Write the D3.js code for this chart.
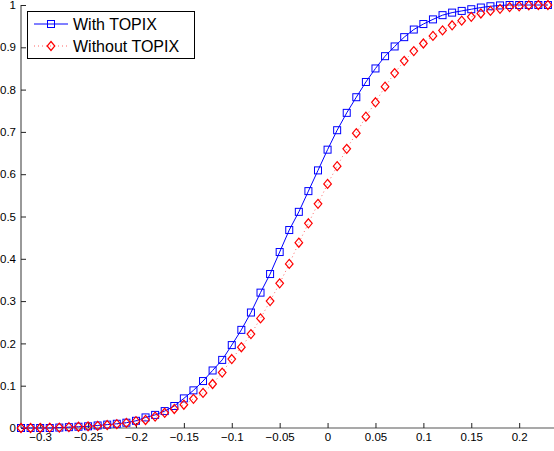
<!DOCTYPE html>
<html>
<head>
<meta charset="utf-8">
<script src="https://cdn.jsdelivr.net/npm/d3@7"></script>
<style>
  body { margin: 0; background: #fff; }
  svg { display: block; font-family: "Liberation Sans", Arial, sans-serif; }
</style>
</head>
<body>
<svg id="chart" width="554" height="451"></svg>
<script>
// x grid: -0.32 .. 0.23 step 0.01
const xs = d3.range(56).map(i => +(-0.32 + i * 0.01).toFixed(2));

const withTopix = [
  0.000, 0.000, 0.000, 0.000, 0.001, 0.002, 0.003, 0.004, 0.006, 0.008,
  0.010, 0.0125, 0.017, 0.025, 0.031, 0.040, 0.052, 0.070, 0.089, 0.111,
  0.136, 0.161, 0.196, 0.232, 0.273, 0.320, 0.364, 0.416, 0.468, 0.511,
  0.560, 0.609, 0.658, 0.704, 0.745, 0.782, 0.818, 0.850, 0.879, 0.902,
  0.924, 0.942, 0.955, 0.966, 0.976, 0.982, 0.986, 0.990, 0.994, 0.997,
  0.999, 1.000, 1.000, 1.000, 1.000, 1.000
];

const withoutTopix = [
  0.000, 0.000, 0.000, 0.001, 0.001, 0.002, 0.003, 0.004, 0.005, 0.007,
  0.009, 0.012, 0.016, 0.019, 0.027, 0.036, 0.045, 0.055, 0.069, 0.083,
  0.104, 0.131, 0.163, 0.191, 0.222, 0.259, 0.300, 0.342, 0.388, 0.438,
  0.484, 0.530, 0.577, 0.619, 0.660, 0.697, 0.736, 0.770, 0.807, 0.839,
  0.868, 0.891, 0.909, 0.927, 0.940, 0.952, 0.963, 0.972, 0.980, 0.986,
  0.991, 0.995, 0.997, 0.999, 1.000, 1.000
];

const xTicks = [-0.3, -0.25, -0.2, -0.15, -0.1, -0.05, 0, 0.05, 0.1, 0.15, 0.2];
const yTicks = [0, 0.1, 0.2, 0.3, 0.4, 0.5, 0.6, 0.7, 0.8, 0.9, 1];
const seriesNames = ["With TOPIX", "Without TOPIX"];

const svg = d3.select("#chart");
const x = d3.scaleLinear().domain([-0.32, 0.24]).range([21, 557.5]);
const y = d3.scaleLinear().domain([0, 1]).range([428, 5]);

// ---- axes ----
const fmt = d => String(d).replace("-", "\u2212");

const xAxis = svg.append("g")
  .attr("transform", "translate(0,428)")
  .call(d3.axisBottom(x).tickValues(xTicks).tickSize(-5).tickPadding(5).tickFormat(fmt));
const yAxis = svg.append("g")
  .attr("transform", "translate(21,0)")
  .call(d3.axisLeft(y).tickValues(yTicks).tickSize(-5).tickPadding(5).tickFormat(fmt));

[xAxis, yAxis].forEach(g => {
  g.select(".domain").attr("stroke", "#555").attr("stroke-width", 1.2);
  g.selectAll(".tick line").attr("stroke", "#222");
  g.selectAll(".tick text").attr("fill", "#000").attr("font-size", 11.5)
    .attr("font-family", "Liberation Sans, Arial, sans-serif");
});
xAxis.select(".domain").attr("d", "M21,0H554");
yAxis.select(".domain").attr("d", "M0,428V5");

// ---- series ----
const blue = xs.map((v, i) => [v, withTopix[i]]);
const red = xs.map((v, i) => [v, withoutTopix[i]]);
const line = d3.line().x(d => x(d[0])).y(d => y(d[1]));

svg.append("path").datum(blue)
  .attr("d", line).attr("fill", "none").attr("stroke", "#0000ff").attr("stroke-width", 1);
svg.append("g").selectAll("rect").data(blue).join("rect")
  .attr("x", d => x(d[0]) - 3.5).attr("y", d => y(d[1]) - 3.5)
  .attr("width", 7).attr("height", 7)
  .attr("fill", "none").attr("stroke", "#0000ff").attr("stroke-width", 1);

svg.append("path").datum(red)
  .attr("d", line).attr("fill", "none").attr("stroke", "#ff0000")
  .attr("stroke-width", 1).attr("stroke-dasharray", "1,3").attr("opacity", 0.6);
const diamond = (cx, cy) => `M${cx},${cy - 4.5}L${cx + 3.8},${cy}L${cx},${cy + 4.5}L${cx - 3.8},${cy}Z`;
svg.append("g").selectAll("path").data(red).join("path")
  .attr("d", d => diamond(x(d[0]), y(d[1])))
  .attr("fill", "none").attr("stroke", "#ff0000").attr("stroke-width", 1.2);

// ---- legend ----
const lg = svg.append("g");
lg.append("rect").attr("x", 27.5).attr("y", 11.5).attr("width", 167).attr("height", 47)
  .attr("fill", "#fff").attr("stroke", "#000").attr("stroke-width", 1);
const rows = [24, 46];
lg.append("line").attr("x1", 34).attr("x2", 68).attr("y1", rows[0]).attr("y2", rows[0])
  .attr("stroke", "#0000ff");
lg.append("rect").attr("x", 47.5).attr("y", rows[0] - 3.5).attr("width", 7).attr("height", 7)
  .attr("fill", "none").attr("stroke", "#0000ff");
lg.append("line").attr("x1", 34).attr("x2", 68).attr("y1", rows[1]).attr("y2", rows[1])
  .attr("stroke", "#ff0000").attr("stroke-dasharray", "1,3").attr("opacity", 0.6);
lg.append("path").attr("d", diamond(51, rows[1]))
  .attr("fill", "none").attr("stroke", "#ff0000").attr("stroke-width", 1.2);
seriesNames.forEach((name, i) => {
  lg.append("text").attr("x", 73).attr("y", rows[i]).attr("dy", "0.36em")
    .attr("font-size", 16).attr("fill", "#000").text(name);
});
</script>
</body>
</html>
